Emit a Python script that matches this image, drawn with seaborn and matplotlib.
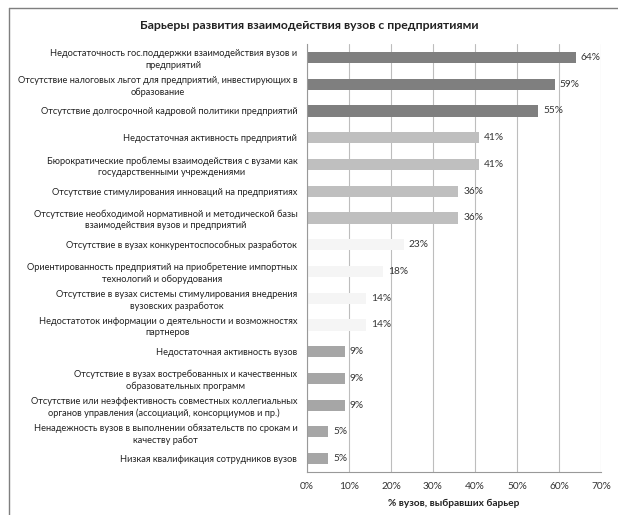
import matplotlib
matplotlib.use("Agg")
import matplotlib.pyplot as plt
import seaborn as sns
from matplotlib.lines import Line2D

# Data
barriers = [
    "Недостаточность гос.поддержки взаимодействия вузов и\nпредприятий",
    "Отсутствие налоговых льгот для предприятий, инвестирующих в\nобразование",
    "Отсутствие долгосрочной кадровой политики предприятий",
    "Недостаточная активность предприятий",
    "Бюрократические проблемы взаимодействия с вузами как\nгосударственными учреждениями",
    "Отсутствие стимулирования инноваций на предприятиях",
    "Отсутствие необходимой нормативной и методической базы\nвзаимодействия вузов и предприятий",
    "Отсутствие в вузах конкурентоспособных разработок",
    "Ориентированность предприятий на приобретение импортных\nтехнологий и оборудования",
    "Отсутствие в вузах системы стимулирования внедрения\nвузовских разработок",
    "Недостатоток информации о деятельности и возможностях\nпартнеров",
    "Недостаточная активность вузов",
    "Отсутствие в вузах востребованных и качественных\nобразовательных программ",
    "Отсутствие или неэффективность совместных коллегиальных\nорганов управления (ассоциаций, консорциумов и пр.)",
    "Ненадежность вузов в выполнении обязательств по срокам и\nкачеству работ",
    "Низкая квалификация сотрудников вузов",
]
shares = [64, 59, 55, 41, 41, 36, 36, 23, 18, 14, 14, 9, 9, 9, 5, 5]
groups = [0, 0, 0, 1, 1, 1, 1, 2, 2, 2, 2, 3, 3, 3, 3, 3]
group_colors = ["#7f7f7f", "#bfbfbf", "#f5f5f5", "#a6a6a6"]
xticks = [0, 10, 20, 30, 40, 50, 60, 70]

bar_colors = [group_colors[g] for g in groups]

sns.set_style("white")
plt.rcParams["font.family"] = ["Lato", "DejaVu Sans"]

fig = plt.figure(figsize=(6.18, 5.15), dpi=100)
ax = fig.add_axes([0.4968, 0.0835, 0.4757, 0.831])

sns.barplot(x=shares, y=barriers, hue=barriers, palette=bar_colors,
            legend=False, orient="h", width=0.42, saturation=1,
            edgecolor="none", ax=ax)

for i, v in enumerate(shares):
    ax.text(v + 1.2, i, f"{v}%", va="center", ha="left",
            fontsize=7.3, color="#333333")

ax.set_xlim(0, 70)
ax.set_ylim(len(barriers) - 0.5, -0.5)
ax.set_xticks(xticks)
ax.set_xticklabels([f"{t}%" for t in xticks], fontsize=7.3, color="#333333")
ax.xaxis.grid(True, color="#bdbdbd", linewidth=0.8)
ax.set_axisbelow(True)

ax.set_yticks([i - 0.5 for i in range(len(barriers) + 1)], minor=True)
ax.tick_params(axis="y", which="major", length=0, pad=7,
               labelsize=6.7, labelcolor="#222222")
ax.tick_params(axis="y", which="minor", length=3, color="#999999", width=0.8)
ax.tick_params(axis="x", length=4, color="#999999", width=0.8)
for label in ax.get_yticklabels():
    label.set_multialignment("center")
    label.set_linespacing(1.35)

for side in ["top", "right"]:
    ax.spines[side].set_visible(False)
for side in ["left", "bottom"]:
    ax.spines[side].set_color("#999999")
    ax.spines[side].set_linewidth(0.8)

ax.set_xlabel("% вузов, выбравших барьер", fontsize=7.3, fontweight="bold",
              color="#222222", labelpad=5)
ax.set_ylabel("")

fig.text(0.5, 0.951, "Барьеры развития взаимодействия вузов с предприятиями",
         ha="center", va="center", fontsize=8.8, fontweight="bold",
         color="#222222")

# frame of the chart area
fig.add_artist(Line2D([0.014, 0.014], [0, 0.985], transform=fig.transFigure,
                      color="#7f7f7f", linewidth=1))
fig.add_artist(Line2D([0.014, 1.0], [0.985, 0.985], transform=fig.transFigure,
                      color="#7f7f7f", linewidth=1))

fig.savefig("out.png", dpi=100, facecolor="white")
